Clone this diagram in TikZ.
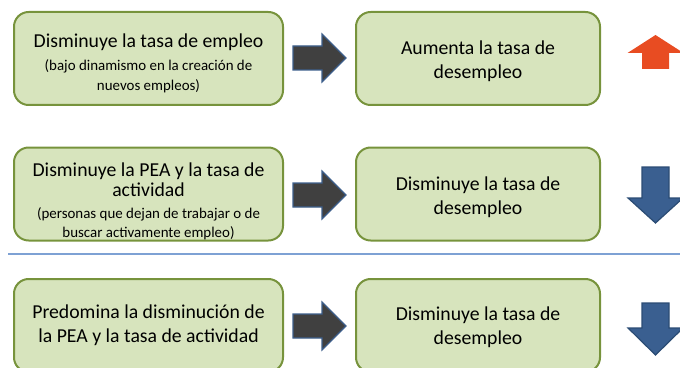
\documentclass[tikz,border=0pt]{standalone}
\usepackage{fontspec}
\setmainfont{Carlito}
\definecolor{boxfill}{HTML}{D7E4BD}
\definecolor{boxline}{HTML}{77933C}
\definecolor{darkfill}{HTML}{404040}
\definecolor{darkline}{HTML}{3D5F8C}
\definecolor{bluefill}{HTML}{3A5F90}
\definecolor{blueline}{HTML}{2B4C74}
\definecolor{redfill}{HTML}{E84C22}
\definecolor{sepline}{HTML}{7EA1D4}
\newcommand{\smalltxt}{\fontsize{11.2}{13.5}\selectfont}
\begin{document}
\begin{tikzpicture}[x=0.75pt,y=-0.75pt,
  box/.style={draw=boxline, fill=boxfill, line width=1.5pt, rounded corners=11pt,
    inner sep=0pt, minimum height=69.75pt},
  leftbox/.style={box, minimum width=201.75pt},
  rightbox/.style={box, minimum width=183pt},
  boxtext/.style={align=center, inner sep=0pt, font=\fontsize{14.8}{18}\selectfont},
  darrow/.style={fill=darkfill, draw=darkline, line width=0.9pt, line join=miter},
  uparrow/.style={fill=redfill, draw=none},
  downarrow/.style={fill=bluefill, draw=blueline, line width=0.9pt, line join=miter},
  rarrow/.pic={\path[darrow] (-26.5,-12) -- (2.5,-12) -- (2.5,-24) -- (26.5,0) -- (2.5,24) -- (2.5,12) -- (-26.5,12) -- cycle;}
]
\useasboundingbox (0,0) rectangle (680,367);
\clip (0,0) rectangle (680,367);

% row 1
\node[leftbox] (l1) at (148.5,58.5) {};
\node[boxtext] (l1t) at ([yshift=-3.5pt]l1.center) {Disminuye la tasa de empleo\\[-0.5pt]
  \smalltxt (bajo dinamismo en la creación de\\[-3pt] \smalltxt nuevos empleos)};
\node[rightbox] (r1) at (478,58.5) {};
\node[boxtext] (r1t) at ([yshift=-2.2pt]r1.center) {Aumenta la tasa de\\ desempleo};
\coordinate (a1) at (319.5,58);
\pic at (a1) {rarrow};
\coordinate (u1) at (655.5,35);
\path[uparrow] (u1) -- ++(28,18) -- ++(-14.5,0) -- ++(0,16) -- ++(-27,0) -- ++(0,-16) -- ++(-14.5,0) -- cycle;

% row 2
\node[leftbox] (l2) at (148.5,194) {};
\node[boxtext] (l2t) at ([yshift=-5.5pt]l2.center) {Disminuye la PEA y la tasa de\\[-2.5pt] actividad\\[-1.5pt]
  \smalltxt (personas que dejan de trabajar o de\\[-4pt] \smalltxt buscar activamente empleo)};
\node[rightbox] (r2) at (478,194) {};
\node[boxtext] (r2t) at ([yshift=-2.2pt]r2.center) {Disminuye la tasa de\\ desempleo};
\coordinate (a2) at (319.5,195);
\pic at (a2) {rarrow};
\coordinate (d2) at (655.5,223);
\path[downarrow] (d2) -- ++(27.5,-25) -- ++(-14,0) -- ++(0,-31) -- ++(-27,0) -- ++(0,31) -- ++(-14,0) -- cycle;

% separator
\coordinate (s1) at (8,254);
\coordinate (s2) at (680,254);
\draw[sepline, line width=1.1pt] (s1) -- (s2);

% row 3
\node[leftbox] (l3) at (148.5,325.5) {};
\node[boxtext] (l3t) at (l3.center) {Predomina la disminución de\\ la PEA y la tasa de actividad};
\node[rightbox] (r3) at (478,325.5) {};
\node[boxtext] (r3t) at ([yshift=-1pt]r3.center) {Disminuye la tasa de\\ desempleo};
\coordinate (a3) at (319.5,326);
\pic at (a3) {rarrow};
\coordinate (d3) at (655.5,355);
\path[downarrow] (d3) -- ++(27.5,-27) -- ++(-14,0) -- ++(0,-25) -- ++(-27,0) -- ++(0,25) -- ++(-14,0) -- cycle;
\end{tikzpicture}
\end{document}
